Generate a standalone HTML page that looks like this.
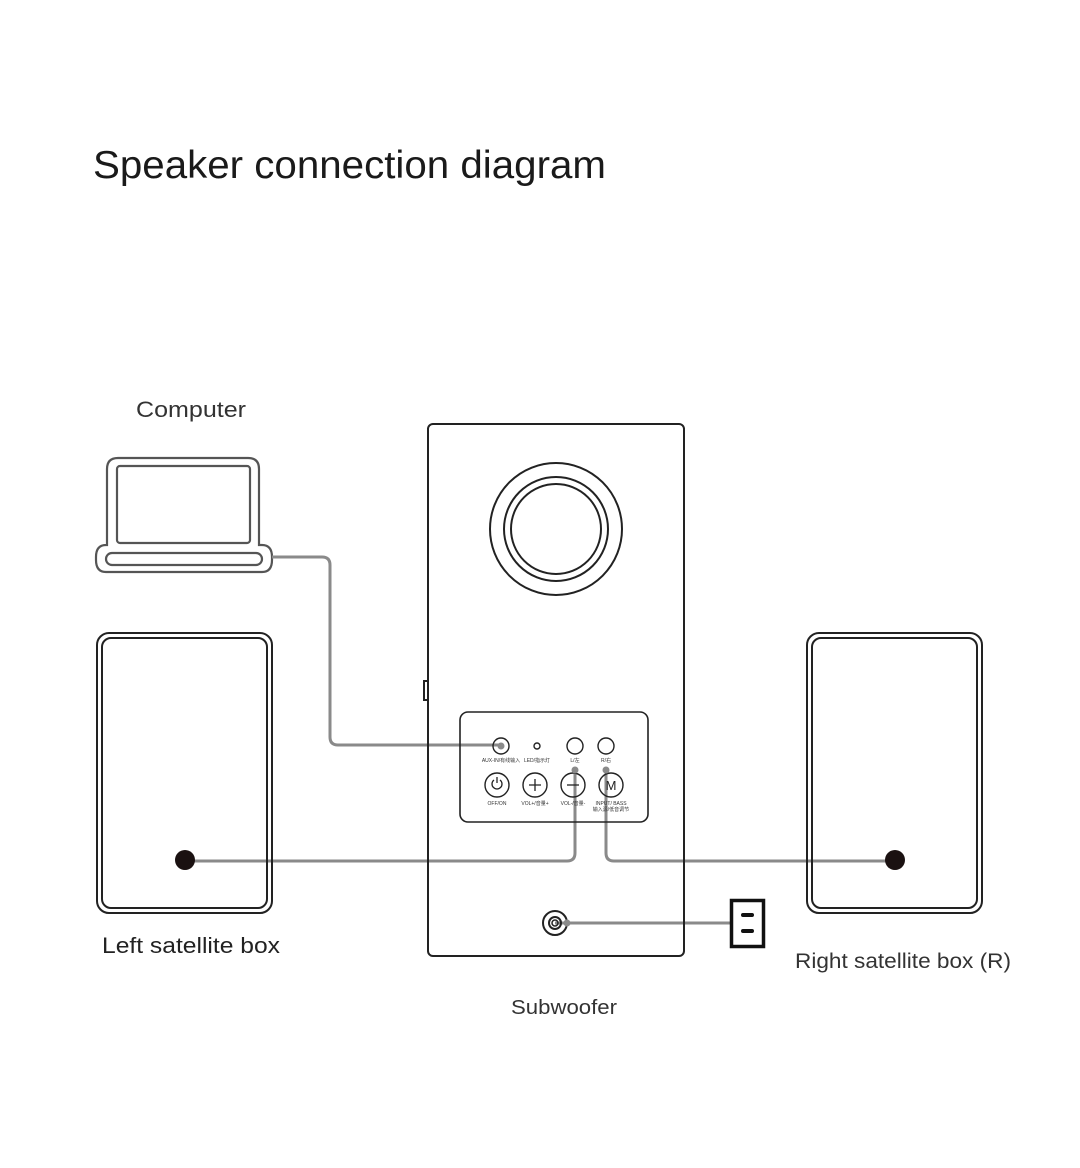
<!DOCTYPE html>
<html><head><meta charset="utf-8"><style>
html,body{margin:0;padding:0;background:#fff;}
svg{display:block;}
text{font-family:"Liberation Sans","Noto Sans CJK SC",sans-serif;}
</style></head><body>
<svg width="1080" height="1168" viewBox="0 0 1080 1168" xmlns="http://www.w3.org/2000/svg">
<rect width="1080" height="1168" fill="#fff"/>
<text x="93" y="178" font-size="39" fill="#1a1a1a" textLength="513" lengthAdjust="spacingAndGlyphs">Speaker connection diagram</text>
<text x="136" y="417" font-size="22" fill="#333" textLength="110" lengthAdjust="spacingAndGlyphs">Computer</text>
<!-- laptop -->
<g fill="none" stroke="#555" stroke-width="2.2">
<path d="M107,545 V469 Q107,458 118,458 H248 Q259,458 259,469 V545 H262 Q272,545 272,557 V560 Q272,572 262,572 H106 Q96,572 96,560 V557 Q96,545 106,545 Z"/>
<rect x="117" y="466" width="133" height="77" rx="3"/>
<rect x="106" y="553" width="156" height="12" rx="6"/>
</g>
<!-- cables -->
<g fill="none" stroke="#8a8a8a" stroke-width="3">
<path d="M272,557 H322 Q330,557 330,565 V737 Q330,745 338,745 H501"/>
<path d="M575,770 V853 Q575,861 567,861 H186"/>
<path d="M606,770 V853 Q606,861 614,861 H895"/>
<path d="M555,923 H732"/>
</g>
<!-- subwoofer -->
<g fill="none" stroke="#222" stroke-width="2">
<rect x="428" y="424" width="256" height="532" rx="5"/>
<rect x="424" y="681" width="4" height="19"/>
<circle cx="556" cy="529" r="66"/>
<circle cx="556" cy="529" r="52"/>
<circle cx="556" cy="529" r="45"/>
<rect x="460" y="712" width="188" height="110" rx="8" stroke-width="1.6"/>
<g stroke-width="1.4">
<circle cx="501" cy="746" r="8"/>
<circle cx="537" cy="746" r="3"/>
<circle cx="575" cy="746" r="8"/>
<circle cx="606" cy="746" r="8"/>
<circle cx="497" cy="785" r="12"/>
<circle cx="535" cy="785" r="12"/>
<circle cx="573" cy="785" r="12"/>
<circle cx="611" cy="785" r="12"/>
</g>
<path d="M494,780 A5,5 0 1,0 500,780 M497,777 V783" stroke-width="1.3"/>
<path d="M529,785 H541 M535,779 V791" stroke-width="1.3"/>
<path d="M567,785 H579" stroke-width="1.3"/>
<circle cx="555" cy="923" r="12" stroke-width="2"/>
<circle cx="555" cy="923" r="6" stroke-width="2"/>
<circle cx="555" cy="923" r="3" stroke-width="1.5"/>
</g>
<text x="611" y="790" font-size="13" text-anchor="middle" fill="#222">M</text>
<g font-size="5" fill="#333" text-anchor="middle">
<text x="501" y="762">AUX-IN/有线输入</text>
<text x="537" y="762">LED/指示灯</text>
<text x="575" y="762">L/左</text>
<text x="606" y="762">R/右</text>
<text x="497" y="805">OFF/ON</text>
<text x="535" y="805">VOL+/音量+</text>
<text x="573" y="805">VOL-/音量-</text>
<text x="611" y="805">INPUT/ BASS</text>
<text x="611" y="811">输入源/低音调节</text>
</g>
<g fill="#8a8a8a"><circle cx="501" cy="746" r="3.5"/><circle cx="575" cy="770" r="3.5"/><circle cx="606" cy="770" r="3.5"/><circle cx="567" cy="923" r="3.5"/></g>
<!-- socket -->
<rect x="731.5" y="900.5" width="32" height="46" fill="#fff" stroke="#111" stroke-width="3.5"/>
<rect x="741" y="913" width="13" height="4" rx="2" fill="#111"/>
<rect x="741" y="929" width="13" height="4" rx="2" fill="#111"/>
<!-- satellites -->
<g fill="none" stroke="#222" stroke-width="2">
<rect x="97" y="633" width="175" height="280" rx="12"/>
<rect x="102" y="638" width="165" height="270" rx="9"/>
<rect x="807" y="633" width="175" height="280" rx="12"/>
<rect x="812" y="638" width="165" height="270" rx="9"/>
</g>
<path d="M186,861 H198" stroke="#8a8a8a" stroke-width="3"/>
<path d="M882,861 H895" stroke="#8a8a8a" stroke-width="3"/>
<circle cx="185" cy="860" r="10" fill="#1a1111"/>
<circle cx="895" cy="860" r="10" fill="#1a1111"/>
<text x="102" y="953" font-size="22" fill="#222" textLength="178" lengthAdjust="spacingAndGlyphs">Left satellite box</text>
<text x="795" y="968" font-size="21" fill="#333" textLength="216" lengthAdjust="spacingAndGlyphs">Right satellite box (R)</text>
<text x="511" y="1014" font-size="20" fill="#333" textLength="106" lengthAdjust="spacingAndGlyphs">Subwoofer</text>
</svg>
</body></html>
